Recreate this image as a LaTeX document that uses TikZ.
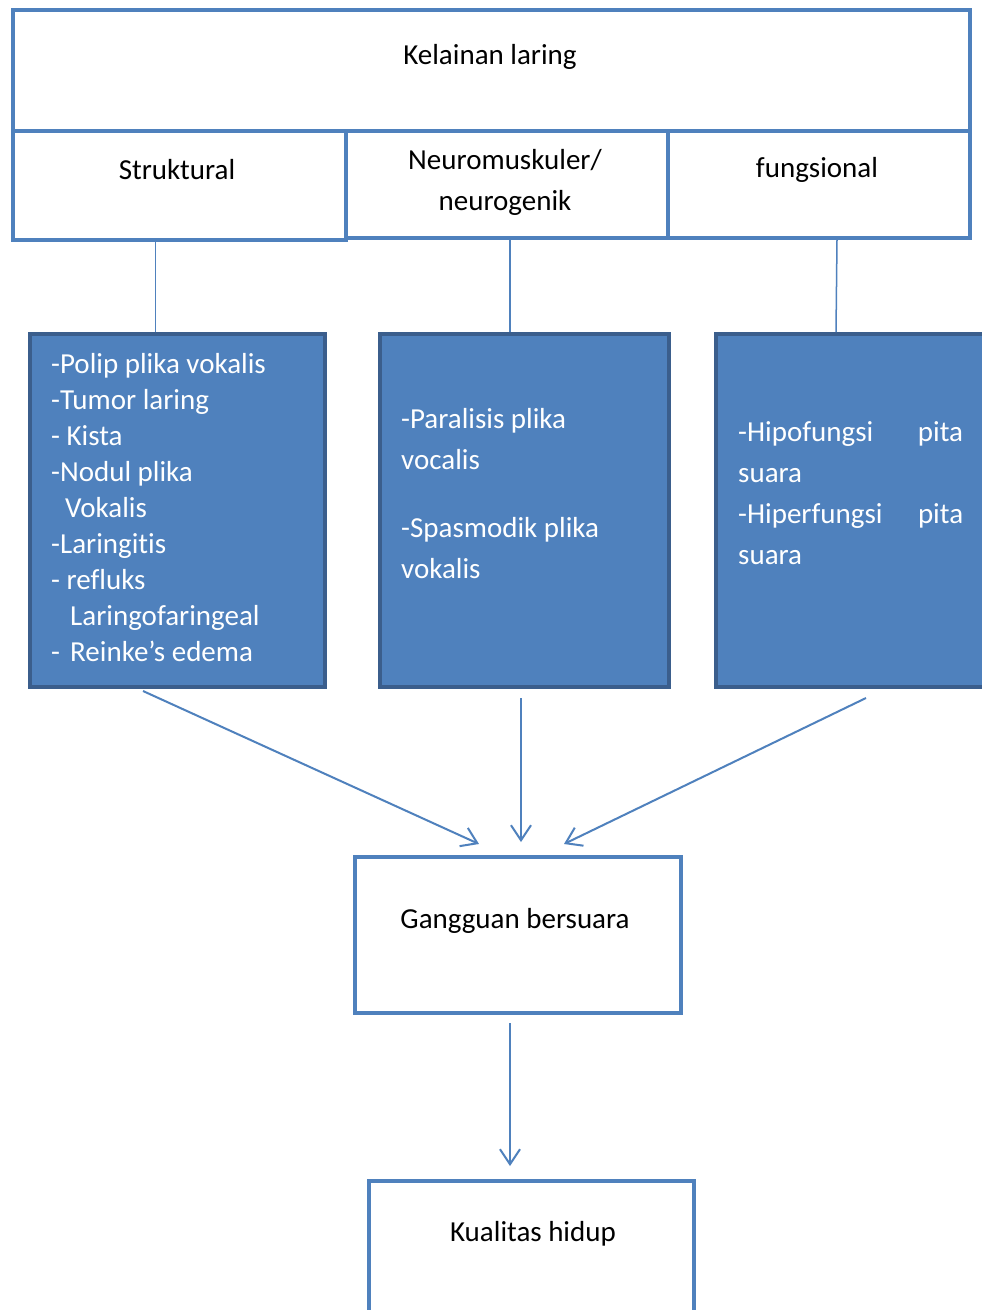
\documentclass[tikz,border=0pt]{standalone}
\usepackage{fontspec}
\setmainfont{Carlito}[Ligatures=NoCommon]
\usepackage{xcolor}
\usetikzlibrary{arrows.meta,positioning}

\definecolor{boxblue}{HTML}{4F81BD}
\definecolor{boxedge}{HTML}{3B5E8C}

\begin{document}
\begin{tikzpicture}[
    x=1pt,
    y=-1pt,
    font=\fontsize{29}{36}\selectfont,
    outlinebox/.style={
        draw=boxblue,
        line width=4pt,
        fill=white,
        inner sep=0pt,
        anchor=north west
    },
    listbox/.style={
        draw=boxedge,
        line width=4pt,
        fill=boxblue,
        inner sep=0pt,
        anchor=north west
    },
    boxlabel/.style={anchor=base,inner sep=0pt},
    listtext/.style={
        text=white,
        align=left,
        anchor=north west,
        inner sep=0pt
    },
    joinline/.style={draw=boxblue,line width=1.5pt},
    flowarrow/.style={
        draw=boxblue,
        line width=2pt,
        -{Straight Barb[length=15pt,width=20pt,line width=2pt]}
    }
]

\clip (0,0) rectangle (982,1310);
\fill[white] (0,0) rectangle (982,1310);

% ---------------------------------------------------------
% Header row
% ---------------------------------------------------------

\node[outlinebox,minimum width=957pt,minimum height=121pt]
    (kelainan) at (11,8) {};
\node[boxlabel] (kelainantext) at (490,64) {Kelainan laring};

\node[outlinebox,minimum width=333pt,minimum height=109pt]
    (struktural) at (11,129) {};
\node[boxlabel] (strukturaltext) at (177,179) {Struktural};

\node[outlinebox,minimum width=322pt,minimum height=107pt]
    (neuro) at (344,129) {};
\node[boxlabel,align=center,font=\fontsize{29}{41}\selectfont]
    (neurotext) at (505,210)
{Neuromuskuler/\\neurogenik};

\node[outlinebox,minimum width=302pt,minimum height=107pt]
    (fungsi) at (666,129) {};
\node[boxlabel] (fungsitext) at (817,177) {fungsional};

% ---------------------------------------------------------
% Lists of disorders
% ---------------------------------------------------------

\node[listbox,minimum width=295pt,minimum height=353pt]
    (strukturallist) at (28,332) {};
\node[listtext] (strukturalitems) at (51,353)
{
-Polip plika vokalis\\
-Tumor laring\\
- Kista\\
-Nodul plika\\
\hspace*{14pt}Vokalis\\
-Laringitis\\
- refluks\\
\hspace*{19pt}Laringofaringeal\\
\makebox[19pt][l]{-}Reinke’s edema
};

\node[listbox,minimum width=289pt,minimum height=353pt]
    (neurolist) at (378,332) {};
\node[listtext,font=\fontsize{29}{41}\selectfont] (neuroitems) at (401,408)
{
-Paralisis plika\\
vocalis\\[27pt]
-Spasmodik plika\\
vokalis
};

\node[listbox,minimum width=280pt,minimum height=353pt]
    (fungsilist) at (714,332) {};
\node[listtext,text width=225pt,font=\fontsize{29}{41}\selectfont]
    (fungsiitems) at (738,421)
{
-Hipofungsi\hfill pita\\
suara\\
-Hiperfungsi\hfill pita\\
suara
};

% branches from header to lists
\draw[joinline]
    ([xshift=-24pt]struktural.south) -- ([xshift=-24pt]struktural.south |- strukturallist.north);
\draw[joinline]
    ([xshift=3pt]neuro.south) -- ([xshift=3pt]neuro.south |- neurolist.north);
\draw[joinline]
    ([xshift=18pt]fungsi.south) -- ([xshift=-20pt]fungsilist.north);

% ---------------------------------------------------------
% Outcome boxes
% ---------------------------------------------------------

\node[outlinebox,minimum width=326pt,minimum height=156pt]
    (gangguan) at (353,855) {};
\node[boxlabel] (gangguantext) at (515,928) {Gangguan bersuara};

\node[outlinebox,minimum width=325pt,minimum height=160pt]
    (kualitas) at (367,1179) {};
\node[boxlabel] (kualitastext) at (533,1241) {Kualitas hidup};

% arrows into outcomes
\draw[flowarrow]
    ([xshift=-34.5pt,yshift=-2pt]strukturallist.south) -- ([xshift=-39pt,yshift=11pt]gangguan.north);
\draw[flowarrow]
    ([xshift=-3.5pt,yshift=-9pt]neurolist.south) -- ([xshift=3pt,yshift=13pt]gangguan.north);
\draw[flowarrow]
    ([xshift=10pt,yshift=-9pt]fungsilist.south) -- ([xshift=46pt,yshift=11pt]gangguan.north);
\draw[flowarrow]
    ([xshift=-8pt,yshift=-8pt]gangguan.south) -- ([xshift=-21.5pt,yshift=13pt]kualitas.north);

\end{tikzpicture}
\end{document}
